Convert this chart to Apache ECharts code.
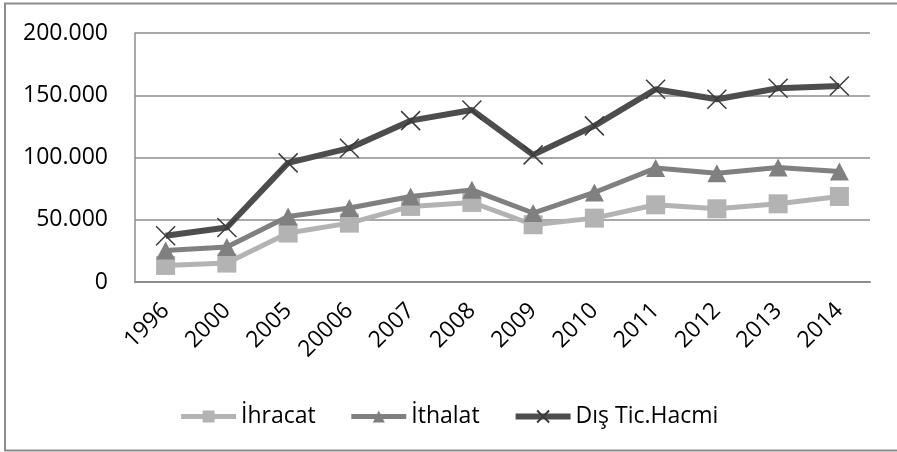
<!DOCTYPE html>
<html>
<head>
<meta charset="utf-8">
<script src="https://cdn.jsdelivr.net/npm/echarts@6/dist/echarts.min.js"></script>
<style>
html,body{margin:0;padding:0;background:#fff;}
#c{width:897px;height:452px;}
</style>
</head>
<body>
<div id="c"></div>
<script>
const categories = ['1996','2000','2005','20006','2007','2008','2009','2010','2011','2012','2013','2014'];
const ihracat = [13300, 15200, 39300, 47300, 60700, 63900, 46000, 51300, 62000, 58800, 62800, 68700];
const ithalat = [25300, 28100, 52600, 59400, 68700, 74000, 55400, 71900, 91500, 87400, 91900, 88700];
const disTicHacmi = [37100, 43800, 95700, 107500, 129600, 138200, 102100, 125400, 154800, 146800, 155600, 157500];
const yTicks = [0, 50000, 100000, 150000, 200000];
const seriesNames = ['İhracat', 'İthalat', 'Dış Tic.Hacmi'];

const FONT = 'Open Sans';
const chart = echarts.init(document.getElementById('c'), null, {renderer: 'canvas'});
const fmt = v => v === 0 ? '0' : String(v).replace(/\B(?=(\d{3})+(?!\d))/g, '.');

chart.setOption({
  backgroundColor: '#fff',
  animation: false,
  graphic: [{
    type: 'rect',
    shape: {x: 5, y: 3.5, width: 900, height: 447},
    style: {fill: 'none', stroke: '#8c8c8c', lineWidth: 2},
    silent: true
  }],
  grid: {left: 135, right: 27, top: 33, bottom: 170, containLabel: false},
  legend: {
    data: seriesNames,
    left: 'center',
    top: 400,
    itemWidth: 55,
    itemHeight: 15,
    itemGap: 33,
    lineStyle: {width: 'inherit'},
    textStyle: {fontFamily: FONT, fontSize: 23, color: '#000'}
  },
  xAxis: {
    type: 'category',
    data: categories,
    boundaryGap: true,
    axisLine: {show: true, lineStyle: {color: '#8c8c8c', width: 2}},
    axisTick: {show: false},
    axisLabel: {rotate: 45, interval: 0, margin: 25, fontFamily: FONT, fontSize: 23, color: '#000'}
  },
  yAxis: {
    type: 'value',
    min: yTicks[0],
    max: yTicks[yTicks.length - 1],
    interval: yTicks[1] - yTicks[0],
    axisLine: {show: true, lineStyle: {color: '#8c8c8c', width: 1.5}},
    axisTick: {show: false},
    splitLine: {show: true, lineStyle: {color: '#8c8c8c', width: 1.5}},
    axisLabel: {margin: 27, fontFamily: FONT, fontSize: 23, color: '#000', formatter: fmt}
  },
  series: [
    {
      name: seriesNames[0], type: 'line', data: ihracat,
      symbol: 'rect', symbolSize: 19,
      lineStyle: {color: '#b3b3b3', width: 5},
      itemStyle: {color: '#b3b3b3'},
      z: 3
    },
    {
      name: seriesNames[1], type: 'line', data: ithalat,
      symbol: 'triangle', symbolSize: [19, 18],
      lineStyle: {color: '#808080', width: 5},
      itemStyle: {color: '#808080'},
      z: 4
    },
    {
      name: seriesNames[2], type: 'line', data: disTicHacmi,
      symbol: 'path://M0,0L10,10M10,0L0,10', symbolSize: 19,
      lineStyle: {color: '#4d4d4d', width: 6},
      itemStyle: {color: '#4d4d4d', borderColor: '#3a3a3a', borderWidth: 1.5},
      z: 5
    }
  ]
});
</script>
</body>
</html>
